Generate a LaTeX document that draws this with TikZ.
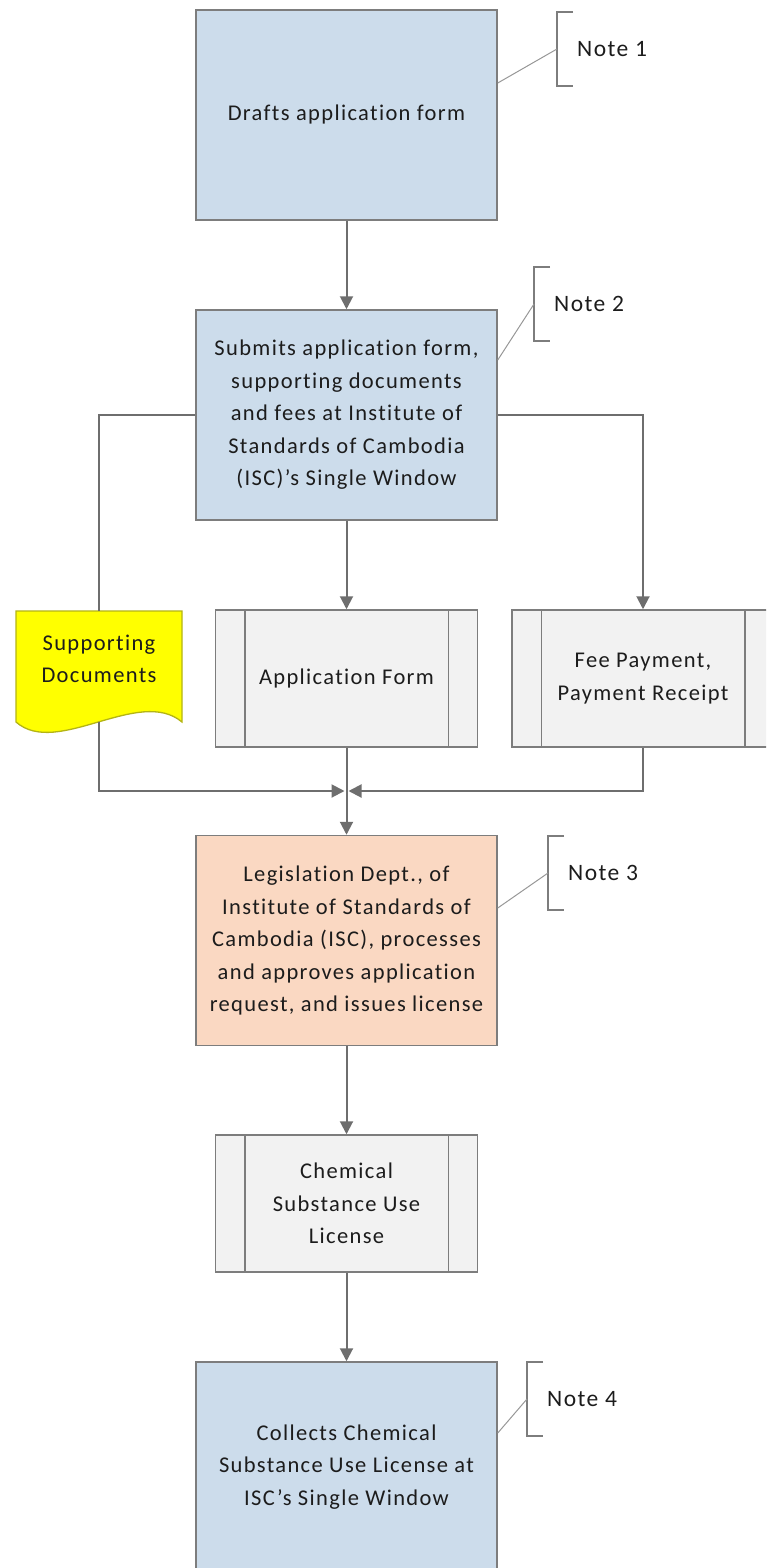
\documentclass[tikz,border=0pt]{standalone}
\usepackage{fontspec}
\setmainfont{Carlito}[LetterSpace=6, Ligatures={NoCommon}]
\usepackage{tikz}
\usetikzlibrary{arrows.meta}

\definecolor{actblue}{RGB}{204,220,235}
\definecolor{actorange}{RGB}{250,216,194}
\definecolor{subgray}{RGB}{242,242,242}
\definecolor{docyellow}{RGB}{255,255,0}
\definecolor{docline}{RGB}{180,180,20}
\definecolor{boxline}{RGB}{125,125,125}
\definecolor{linkgray}{RGB}{110,110,110}
\definecolor{txtgray}{RGB}{28,28,28}

\begin{document}
\begin{tikzpicture} [
            x=1pt, y=-1pt,
            every node/.style={font=\fontsize{22.5}{32.5}\selectfont, text=txtgray, align=center},
            act/.style={draw=boxline, line width=1.5pt, fill=actblue, minimum width=301pt, minimum height=210pt},
            subproc/.style={draw=boxline, line width=1.5pt, fill=subgray, minimum width=262pt, minimum height=137pt},
            link/.style={draw=linkgray, line width=2pt, -{Triangle[length=13pt,width=13pt]}},
            plain/.style={draw=linkgray, line width=2pt},
            brace/.style={draw=boxline, line width=1.3pt},
            noteline/.style={draw=boxline!80, line width=1pt},
            notetxt/.style={font=\fontsize{23.5}{28}\selectfont, inner sep=0pt}
        ]
        \useasboundingbox (0,0) rectangle (766,1568);
        \clip (0,0) rectangle (766,1568);
        % main steps
        \node[act] (draft) at (346.5,115) {Drafts application form};
        \node[act] (submit) at (346.5,415) {Submits application form,\\supporting documents\\and fees at Institute of\\Standards of Cambodia\\(ISC)'s Single Window};
        \node[act, fill=actorange] (legis) at (346.5,940.5) {Legislation Dept., of\\Institute of Standards of\\Cambodia (ISC), processes\\and approves application\\request, and issues license};
        \node[act] (collect) at (346.5,1467) {Collects Chemical\\Substance Use License at\\ISC's Single Window};
        % documents
        \node[subproc] (appform) at (346.5,678.5) {Application Form};
        \node[subproc] (feepay) at (643,678.5) {Fee Payment,\\Payment Receipt};
        \node[subproc] (licence) at (346.5,1203.5) {Chemical\\Substance Use\\License};
        \foreach \s in {appform, feepay, licence}
            \draw[boxline, line width=1.5pt] ([xshift=30pt]\s.north west) -- ([xshift=30pt]\s.south west)
            ([xshift=-30pt]\s.north east) -- ([xshift=-30pt]\s.south east);
        \draw[draw=docline, line width=1.3pt, fill=docyellow] (16,611) -- (182,611) -- (182,722)
        .. controls (139,686) and (57,758) .. (16,722) -- cycle;
        \node[minimum width=166pt, minimum height=96pt] (supp) at (99,659) {Supporting\\Documents};
        % notes
        \foreach \b/\n/\bx/\by/\ly in {draft/1/557/49/83, submit/2/534/304/360, legis/3/548/873/908, collect/4/527/1399/1433}
        {
            \draw[brace] (\bx+16,\by-37) -- (\bx,\by-37) -- (\bx,\by+37) -- (\bx+16,\by+37);
            \coordinate (nb\n) at (\bx,\by);
            \node[notetxt, anchor=west] (note\n) at (\bx+20,\by) {Note \n};
            \draw[noteline] (\b.east |- 0,\ly) -- (nb\n);
        }
        % flow
        \coordinate (merge) at (346.5,791);
        \draw[link] (draft) -- (submit);
        \draw[link] (submit) -- (appform);
        \draw[link] (submit.east) -| (feepay.north);
        \draw[plain] (submit.west) -| (supp.north);
        \draw[link] ([yshift=-15pt]supp.south) |- ([xshift=-2pt]merge);
        \draw[link] (feepay.south) |- ([xshift=2pt]merge);
        \draw[link] (appform) -- (legis);
        \draw[link] (legis) -- (licence);
        \draw[link] (licence) -- (collect);
    \end{tikzpicture}
\end{document}
